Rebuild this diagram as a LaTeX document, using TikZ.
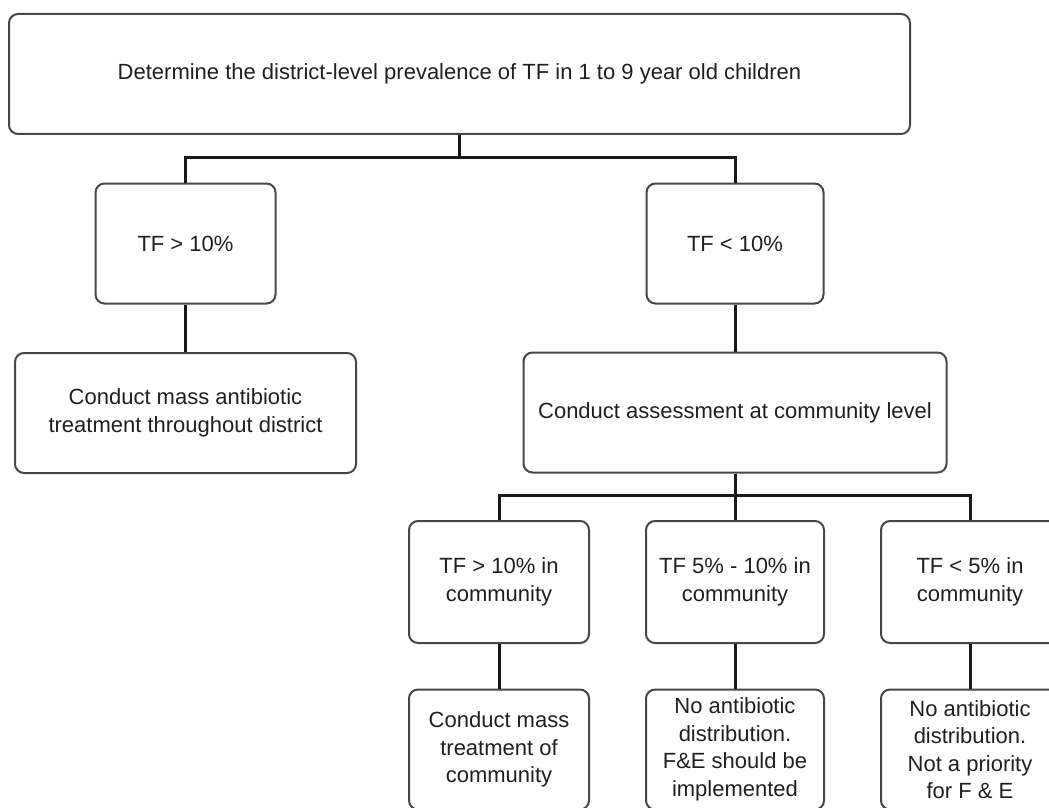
\documentclass[tikz,border=0pt]{standalone}
\usepackage{fontspec}
\setmainfont{Liberation Sans}
\usepackage{tikz}
\newcommand{\pxsize}{0.5pt}
\newcommand{\boxfont}{\fontsize{11}{13.75}\selectfont}

\begin{document}
\begin{tikzpicture}[x=\pxsize,y=-\pxsize,
	box/.style={draw=black!72, line width=1pt, rounded corners=4.5pt, align=center,
		inner sep=0pt, minimum height=60pt, text=black!88, font=\boxfont},
	link/.style={line width=1.5pt, black!90}]
	\useasboundingbox (0,0) rectangle (1049,808);
	\clip (0,0) rectangle (1049,808);

	\node[box, minimum width=450.5pt] (Det) at (459.5,74)
		{Determine the district-level prevalence of TF in 1 to 9 year old children};
	\node[box, minimum width=90pt] (Hi) at (185.5,243.5) {TF > 10\%};
	\node[box, minimum width=88.5pt] (Lo) at (735,243.5) {TF < 10\%};
	\node[box, minimum width=170.5pt] (Mass) at (185.5,413)
		{Conduct mass antibiotic\\treatment throughout district};
	\node[box, minimum width=211.5pt] (Assess) at (735,412.5)
		{Conduct assessment at community level};

	\node[box, minimum width=90pt, minimum height=61pt] (CHi) at (499,582)
		{TF > 10\% in\\community};
	\node[box, minimum width=89pt, minimum height=61pt] (CMid) at (735,582)
		{TF 5\% - 10\% in\\community};
	\node[box, minimum width=89pt, minimum height=61pt] (CLo) at (970,582)
		{TF < 5\% in\\community};

	\node[box, minimum width=90pt] (THi) at (499,749.5)
		{Conduct mass\\treatment of\\community};
	\node[box, minimum width=89pt] (TMid) at (735,749.5)
		{No antibiotic\\distribution.\\F\&E should be\\implemented};
	\node[box, minimum width=89pt] (TLo) at (970,749.5)
		{No antibiotic\\distribution.\\Not a priority\\for F \& E};

	\coordinate (JA) at (459.5,157);
	\coordinate (JB) at (735,495);

	\draw[link] (Det) -- (JA);
	\draw[link] (Hi.north) |- (JA) -| (Lo.north);
	\draw[link] (Hi) -- (Mass);
	\draw[link] (Lo) -- (Assess);
	\draw[link] (Assess) -- (JB);
	\draw[link] (CHi.north) |- (JB) -| (CLo.north);
	\draw[link] (JB) -- (CMid);
	\draw[link] (CHi) -- (THi);
	\draw[link] (CMid) -- (TMid);
	\draw[link] (CLo) -- (TLo);
\end{tikzpicture}
\end{document}
